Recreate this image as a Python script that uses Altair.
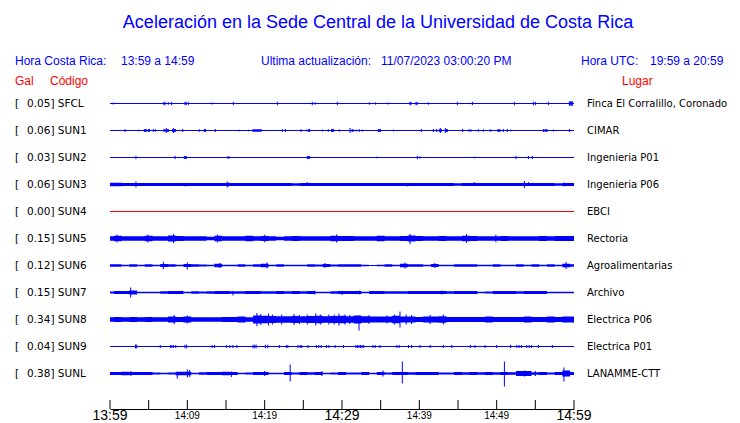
import altair as alt
import pandas as pd

# ---------------- data ----------------
codes = ["SFCL", "SUN1", "SUN2", "SUN3", "SUN4", "SUN5", "SUN6", "SUN7", "SUN8", "SUN9", "SUNL"]
peaks = [0.05, 0.06, 0.03, 0.06, 0.00, 0.15, 0.12, 0.15, 0.34, 0.04, 0.38]
places = ["Finca El Corralillo, Coronado", "CIMAR", "Ingenieria P01", "Ingenieria P06", "EBCI",
          "Rectoria", "Agroalimentarias", "Archivo", "Electrica P06", "Electrica P01", "LANAMME-CTT"]

# minutes after 13:59 (0..60), one envelope value per minute (half amplitude, display units)
env_minutes = list(range(61))
env_SUN3 = [1.8, 1.8, 1.5, 1.6, 1.5, 1.5, 1.5, 1.5, 1.5, 1.5,
            1.5, 1.5, 1.5, 1.5, 1.5, 1.6, 1.5, 1.5, 1.5, 1.5,
            1.5, 1.5, 1.5, 1.5, 1.3, 1.6, 1.5, 1.5, 1.5, 1.5,
            1.6, 1.5, 1.5, 1.5, 1.5, 1.5, 1.5, 1.5, 1.5, 1.5,
            1.5, 1.5, 1.5, 1.5, 1.5, 1.3, 1.5, 1.6, 1.5, 1.5,
            1.5, 1.5, 1.5, 1.6, 1.6, 1.5, 1.5, 1.5, 1.3, 1.5, 1.6]
env_SUN5 = [2.2, 2.8, 2.2, 2.2, 2.2, 2.8, 2.2, 2.2, 3.0, 2.5,
            2.2, 2.2, 2.2, 1.8, 2.8, 2.2, 2.2, 2.2, 2.8, 2.2,
            2.5, 2.2, 1.8, 2.2, 2.5, 2.2, 2.2, 2.2, 2.2, 2.8,
            2.5, 2.5, 2.2, 2.2, 2.2, 2.8, 2.2, 2.2, 2.5, 3.0,
            2.5, 2.2, 2.2, 2.5, 2.2, 2.2, 2.8, 2.5, 2.2, 2.2,
            2.2, 2.5, 2.2, 2.2, 2.2, 2.2, 2.5, 2.2, 2.5, 2.5, 2.5]
env_SUN6 = [1.3, 1.3, 0.8, 1.3, 0.8, 1.3, 0.8, 1.5, 1.3, 0.8,
            1.5, 1.3, 1.0, 0.8, 1.8, 0.8, 0.8, 1.3, 0.8, 1.3,
            1.8, 0.8, 1.3, 0.8, 0.8, 0.8, 1.3, 1.0, 1.5, 1.0,
            1.3, 1.3, 1.3, 0.8, 0.5, 0.8, 1.3, 0.8, 1.8, 1.3,
            1.3, 0.8, 1.5, 0.8, 0.8, 1.3, 1.3, 1.3, 0.8, 0.8,
            1.3, 0.8, 0.8, 1.3, 0.8, 1.3, 0.8, 1.3, 0.8, 1.8, 1.3]
env_SUN7 = [1.0, 1.5, 1.5, 2.0, 0.8, 0.8, 0.8, 1.3, 1.5, 1.5,
            0.8, 1.3, 1.0, 1.3, 1.5, 1.5, 1.3, 1.3, 1.5, 1.5,
            1.3, 1.3, 1.5, 1.3, 1.5, 1.3, 1.5, 0.8, 0.8, 1.3,
            1.5, 1.5, 1.5, 0.8, 1.5, 1.5, 1.3, 1.3, 1.3, 1.5,
            1.5, 1.5, 1.5, 1.5, 1.3, 1.5, 1.5, 1.5, 0.8, 1.0,
            1.5, 1.5, 1.5, 1.3, 1.5, 1.5, 1.5, 0.8, 0.8, 0.8, 0.8]
env_SUN8 = [2.2, 2.5, 2.2, 2.5, 2.2, 2.5, 2.2, 2.2, 3.0, 2.5,
            3.0, 2.2, 2.2, 2.2, 2.2, 2.5, 2.5, 3.0, 2.2, 4.0,
            3.8, 3.5, 3.2, 3.2, 3.5, 3.2, 3.5, 3.8, 3.2, 3.5,
            3.8, 3.2, 4.0, 3.2, 3.0, 3.0, 3.0, 3.8, 3.0, 3.0,
            2.5, 3.0, 3.0, 3.2, 2.5, 2.5, 2.5, 2.5, 2.5, 3.0,
            2.5, 2.5, 2.5, 2.5, 3.0, 2.5, 2.5, 3.0, 2.5, 3.0, 3.0]
env_SUNL = [1.5, 1.5, 1.8, 1.5, 1.5, 1.5, 1.0, 0.8, 1.0, 1.8,
            1.8, 0.8, 1.3, 1.5, 1.5, 1.8, 1.5, 0.8, 1.0, 1.5,
            1.5, 0.8, 0.8, 1.5, 1.0, 1.5, 1.3, 1.5, 0.8, 1.0,
            1.5, 1.0, 1.0, 1.5, 0.8, 1.5, 1.0, 1.5, 1.5, 1.3,
            1.5, 1.5, 1.5, 1.0, 1.0, 1.5, 1.3, 1.5, 1.3, 1.5,
            1.3, 1.5, 1.3, 2.5, 2.5, 1.3, 1.5, 1.0, 1.5, 3.0, 1.5]
envelopes = {"SUN3": env_SUN3, "SUN5": env_SUN5, "SUN6": env_SUN6,
             "SUN7": env_SUN7, "SUN8": env_SUN8, "SUNL": env_SUNL}

# spikes: (minute, amplitude) or (minute, up, down)
spk_SFCL = [(0.43, 1), (6.98, 1.7), (7.1, 1.7), (7.54, 1.3), (7.97, 1.7), (9.7, 1.7), (9.83, 1.7),
            (10.13, 1.7), (13.23, 1), (15.95, 1.7), (21.64, 1.7), (26.16, 1.7), (26.51, 1.2), (29.4, 1.7),
            (33.54, 1.2), (34.35, 1.2), (35.99, 1), (38.79, 1.7), (38.92, 1.7), (39.57, 1.7), (39.7, 1.7),
            (41.17, 1.2), (44.92, 1.7), (46.86, 1.7), (52.29, 1.7), (54.75, 1.7), (55.0, 1.7),
            (56.68, 1.7), (59.4, 2.2), (59.53, 2.2), (59.66, 2.2), (59.8, 2.2)]
spk_SUN1 = [(1.94, 1.5), (3.66, 0.8), (4.44, 1.5), (4.57, 1.5), (4.7, 1.5), (4.96, 1.5), (5.09, 1.5),
            (5.6, 1.3), (5.86, 1.3), (6.98, 1.5), (7.11, 1.5), (7.28, 2.5), (7.41, 1.5), (7.54, 1.5),
            (8.1, 1.5), (8.19, 2.5), (8.32, 1.5), (8.45, 1.5), (9.4, 1.5), (11.55, 1.3), (12.2, 1.5),
            (12.33, 1.5), (13.62, 1.5), (16.72, 0.8), (17.89, 0.8), (18.49, 1.5), (18.62, 1.5),
            (18.75, 1.5), (18.88, 1.5), (19.01, 1.5), (19.14, 1.5), (19.27, 1.5), (19.4, 1.5),
            (19.53, 1.5), (22.28, 1.3), (22.67, 1.5), (24.7, 1.5), (25.43, 1), (25.69, 1.5),
            (25.82, 1.5), (27.46, 1), (28.23, 1.3), (28.66, 1.5), (28.79, 1.5), (28.92, 1.5),
            (29.65, 1.2), (31.04, 2.5), (31.3, 1.5), (31.43, 1.5), (31.85, 1), (32.24, 1.3), (32.63, 1),
            (34.7, 1.5), (34.83, 1.5), (34.96, 1.5), (36.64, 0.8), (40.26, 1.5), (41.81, 1.5),
            (42.24, 1.5), (42.59, 1.5), (42.72, 2.5), (42.85, 1.5), (43.36, 2.5), (43.49, 1.5),
            (43.62, 1.5), (45.6, 1.5), (46.42, 1.3), (46.68, 1.3), (47.63, 1.3), (48.28, 1.3),
            (49.14, 1), (49.27, 1), (50.17, 1.5), (50.3, 1.5), (50.43, 1.5), (50.86, 1.5), (51.38, 1.5),
            (51.81, 1), (56.04, 1.5), (56.25, 1.5), (56.38, 1.5), (56.51, 1.5), (57.33, 1), (59.4, 1.5)]
spk_SUN2 = [(3.36, 1.7), (8.41, 1.7), (9.61, 1.5), (9.74, 1.5), (9.87, 1.5), (15.26, 1.3), (15.39, 1.3),
            (25.52, 1.5), (25.65, 1.5), (25.78, 1.5), (34.48, 0.8), (39.74, 1.7), (40.09, 1.2),
            (47.11, 0.8), (52.5, 1.7), (54.1, 1.7), (54.61, 1.7)]
spk_SUN3 = [(3.36, 3), (9.74, 0.5, 2), (15.17, 3), (15.3, 2), (25.5, 2.5, 0.5), (38.5, 0.5, 2),
            (47.1, 2.5, 0.5), (53.58, 3.5), (54.1, 2.5, 0.5), (58.7, 2)]
spk_SUN4 = []
spk_SUN5 = [(0.9, 3.8), (4.9, 4), (8.2, 4.5), (13.9, 4), (20.0, 3.8), (29.3, 4),
            (38.8, 4.5, 5.8), (46.1, 4.3), (49.9, 3.8)]
spk_SUN6 = [(6.9, 3.7), (10.0, 3, 4), (14.2, 2.5), (20.3, 3), (27.8, 2.5), (38.15, 3),
            (42.0, 2.5), (58.97, 3.5)]
spk_SUN7 = [(2.67, 5), (15.9, 1.5, 3), (26.5, 2), (30.0, 1, 2.5), (32.3, 2), (42.9, 2)]
spk_SUN8 = [(8.3, 4.5, 4.7), (10.0, 4, 4), (19.0, 6.5, 6.7), (19.5, 5.5, 5.5), (20.5, 6, 6),
            (21.0, 5, 5), (22.2, 5, 5), (23.8, 5.5, 5.5), (24.5, 4.5, 4.5), (25.5, 5, 5), (26.6, 6, 6),
            (27.2, 5, 5), (28.3, 5, 5), (29.0, 5, 5), (29.6, 6, 6), (30.4, 5, 5), (31.0, 4.5, 4.5),
            (32.2, 4, 11), (33.5, 4.5, 4.5), (35.8, 4, 4), (36.8, 5, 5), (37.5, 8, 8), (38.3, 5, 5),
            (39.0, 4.5, 4.5), (41.4, 4.5, 4.5), (43.1, 5, 5)]
spk_SUN9 = [(3.3, 2), (3.45, 2), (6.5, 1.5), (7.8, 1.5), (8.0, 1.5), (8.2, 1.5), (8.5, 1.5),
            (9.7, 1.8), (9.9, 1.8), (13.2, 1.5), (13.5, 1.5), (15.1, 1.5), (15.5, 1.5), (15.9, 1.5),
            (16.4, 1.5), (18.5, 1.8), (18.7, 1.8), (18.9, 1.8), (20.1, 1.8), (20.4, 1.8), (21.9, 1.5),
            (22.8, 1.5), (23.0, 1.5), (24.3, 1.5), (24.6, 1.5), (24.8, 1.5), (25.6, 1.5), (26.7, 1.5),
            (27.0, 1.5), (27.3, 1.5), (28.0, 1.5), (28.3, 1.5), (29.1, 1.5), (30.2, 1.5),
            (31.8, 1.5), (32.0, 1.5), (32.2, 1.5), (32.4, 1.5), (32.6, 1.5), (32.8, 1.5),
            (34.0, 1.5), (34.3, 1.5), (34.9, 1.5), (37.1, 1.5), (37.4, 1.5), (38.6, 1.5), (39.0, 1.5),
            (40.1, 1.5), (41.4, 1.5), (43.1, 1.5), (44.2, 1.5), (46.6, 1.5), (47.2, 1.5), (48.5, 1.5),
            (50.0, 1.5), (51.8, 1.5), (52.6, 1.5), (52.9, 1.5), (53.2, 1.5), (53.9, 1.5), (54.2, 1.5),
            (54.5, 1.5), (55.4, 1.5), (57.2, 1.5)]
spk_SUNL = [(2.7, 2.5), (8.7, 1.5, 5), (10.0, 4), (10.3, 3.5), (15.7, 2, 3.5), (20.0, 2.5),
            (23.3, 9, 8), (27.4, 2.5), (35.3, 3), (37.8, 12, 10), (51.0, 12, 13), (53.6, 3),
            (55.0, 2.5), (58.7, 6, 8)]
spikes = {"SFCL": spk_SFCL, "SUN1": spk_SUN1, "SUN2": spk_SUN2, "SUN3": spk_SUN3, "SUN4": spk_SUN4,
          "SUN5": spk_SUN5, "SUN6": spk_SUN6, "SUN7": spk_SUN7, "SUN8": spk_SUN8, "SUN9": spk_SUN9,
          "SUNL": spk_SUNL}

span = [0, 60]
tick_minutes = [0, 5, 10, 15, 20, 25, 30, 35, 40, 45, 50, 55, 60]
label_minutes = [0, 10, 20, 30, 40, 50, 60]
tick_labels = ["13:59", "14:09", "14:19", "14:29", "14:39", "14:49", "14:59"]
major_labels = ["13:59", "14:29", "14:59"]

# ---------------- layout ----------------
W, H = 464, 319
ROW0, ROWSTEP = 13.5, 27
BLUE, RED = "#0000ff", "#ff0000"
SANS = "Liberation Sans, Arial, Helvetica, sans-serif"
DV = "DejaVu Sans, sans-serif"

rows = pd.DataFrame({"code": codes, "peak": peaks, "place": places})
rows["row"] = range(len(codes))
rows["base"] = ROW0 + ROWSTEP * rows["row"]
rows["left"] = [f"{p:.2f}] {c}" for p, c in zip(peaks, codes)]
rows["bracket"] = "["
rows["start"] = span[0]
rows["end"] = span[1]
rows["col"] = [RED if c == "SUN4" else BLUE for c in codes]
base_of = dict(zip(codes, rows["base"]))

env_rec = []
for c, vals in envelopes.items():
    for m, a in zip(env_minutes, vals):
        env_rec.append({"code": c, "minute": m, "lo": base_of[c] - a, "hi": base_of[c] + a})
env_df = pd.DataFrame(env_rec)

spk_rec = []
for c, lst in spikes.items():
    for s in lst:
        up, dn = (s[1], s[1]) if len(s) == 2 else (s[1], s[2])
        spk_rec.append({"code": c, "minute": s[0], "top": base_of[c] - up, "bot": base_of[c] + dn})
spk_df = pd.DataFrame(spk_rec)

ticks_df = pd.DataFrame({"minute": tick_minutes})
lab_df = pd.DataFrame({"minute": label_minutes, "label": tick_labels})
lab_df["major"] = lab_df["label"].isin(major_labels)

xs = alt.Scale(domain=span, nice=False, zero=False)
ys = alt.Scale(domain=[0, H], reverse=True, nice=False, zero=False)
XAX = alt.Axis(domain=True, domainColor="black", domainWidth=1, ticks=False, labels=False,
               grid=False, title=None)

baseline = alt.Chart(rows).mark_rule(strokeWidth=1).encode(
    x=alt.X("start:Q", scale=xs, axis=XAX), x2="end:Q",
    y=alt.Y("base:Q", scale=ys, axis=None),
    color=alt.Color("col:N", scale=None))

bands = alt.Chart(env_df).mark_area(interpolate="step", color=BLUE, opacity=1).encode(
    x=alt.X("minute:Q", scale=xs, axis=XAX),
    y=alt.Y("lo:Q", scale=ys, axis=None), y2="hi:Q", detail="code:N")

spk = alt.Chart(spk_df).mark_rule(color=BLUE, strokeWidth=1).encode(
    x=alt.X("minute:Q", scale=xs, axis=XAX),
    y=alt.Y("top:Q", scale=ys, axis=None), y2="bot:Q")

ticks = alt.Chart(ticks_df).mark_rule(color="black", strokeWidth=1).encode(
    x=alt.X("minute:Q", scale=xs, axis=XAX), y=alt.value(H - 9), y2=alt.value(H))

big_labels = alt.Chart(lab_df).transform_filter("datum.major").mark_text(
    font=SANS, fontSize=14, baseline="top", align="center", color="black").encode(
    x=alt.X("minute:Q", scale=xs, axis=XAX), y=alt.value(H), text="label:N")
small_labels = alt.Chart(lab_df).transform_filter("!datum.major").mark_text(
    font=SANS, fontSize=10, baseline="top", align="center", color="black").encode(
    x=alt.X("minute:Q", scale=xs, axis=XAX), y=alt.value(H + 2), text="label:N")

left_br = alt.Chart(rows).mark_text(font=DV, fontSize=10.5, align="left", baseline="middle",
                                    color="black").encode(
    x=alt.value(-95), y=alt.Y("base:Q", scale=ys, axis=None), text="bracket:N")
left_txt = alt.Chart(rows).mark_text(font=DV, fontSize=10.5, align="left", baseline="middle",
                                     color="black").encode(
    x=alt.value(-83), y=alt.Y("base:Q", scale=ys, axis=None), text="left:N")
right_txt = alt.Chart(rows).mark_text(font=DV, fontSize=10.0, align="left", baseline="middle",
                                      color="black").encode(
    x=alt.value(477), y=alt.Y("base:Q", scale=ys, axis=None), text="place:N")


def note(text, x, y, size=12, color=BLUE, align="left"):
    return alt.Chart(pd.DataFrame({"t": [text]})).mark_text(
        font=SANS, fontSize=size, color=color, align=align, baseline="middle").encode(
        x=alt.value(x), y=alt.value(y), text="t:N")


notes = [
    note("Aceleración en la Sede Central de la Universidad de Costa Rica", 268, -67, size=18, align="center"),
    note("Hora Costa Rica:", -95, -29.5),
    note("13:59 a 14:59", 11, -29.5),
    note("Ultima actualización:", 151, -29.5),
    note("11/07/2023 03:00:20 PM", 271, -29.5),
    note("Hora UTC:", 471, -29.5),
    note("19:59 a 20:59", 540, -29.5),
    note("Gal", -95, -9.5, color=RED),
    note("Código", -60, -9.5, color=RED),
    note("Lugar", 512, -9.5, color=RED),
]

chart = alt.layer(baseline, bands, spk, ticks, big_labels, small_labels,
                  left_br, left_txt, right_txt, *notes).properties(
    width=W, height=H,
    padding={"left": 102, "top": 82, "right": 158, "bottom": 15},
    autosize=alt.AutoSizeParams(type="none"),
    background="white",
).configure_view(stroke=None)

chart.save("out.html", embed_options={"renderer": "svg", "actions": False})
